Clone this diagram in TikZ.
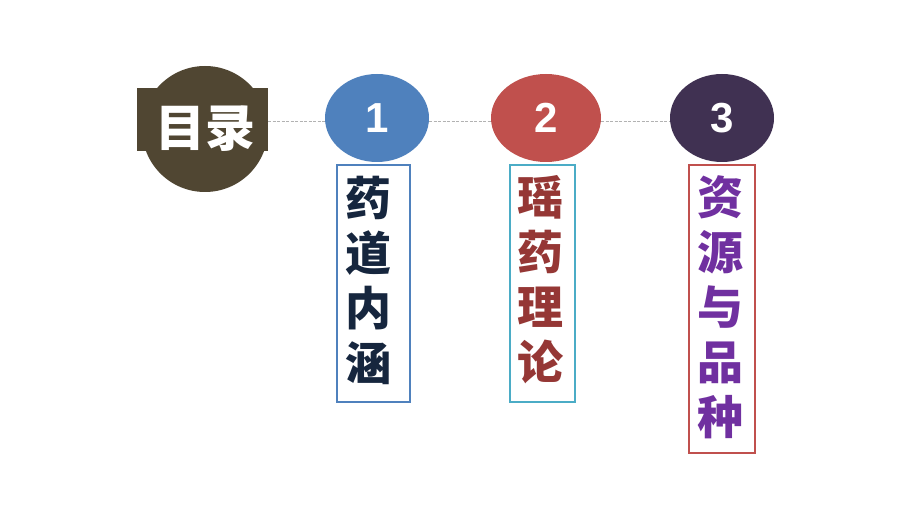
\documentclass[tikz,border=0pt]{standalone}
\usepackage{fontspec}
\setmainfont{Liberation Sans}
\newfontfamily\cjk{Noto Sans CJK SC}[BoldFont={Noto Sans CJK SC Black}]
\usetikzlibrary{shapes.geometric}
\definecolor{tocbrown}{RGB}{80,70,50}
\definecolor{cblue}{RGB}{79,129,189}
\definecolor{cred}{RGB}{192,80,77}
\definecolor{cpurple}{RGB}{64,49,82}
\definecolor{ccyan}{RGB}{75,172,198}
\definecolor{tnavy}{RGB}{22,38,62}
\definecolor{tred}{RGB}{149,55,53}
\definecolor{tpurple}{RGB}{112,48,160}
\begin{document}
\begin{tikzpicture}[x=1pt,y=-1pt,
  numcirc/.style={ellipse,inner sep=0pt,minimum height=88pt,text=white,
    font=\bfseries\fontsize{42}{42}\selectfont},
  conn/.style={draw=gray!60,line width=0.8pt,dash pattern=on 3pt off 1.5pt},
  vbox/.style={draw,line width=1.8pt,inner sep=0pt,fill=white},
  vtext/.style={inner sep=0pt,align=center,font=\cjk\bfseries\fontsize{46}{55}\selectfont}]
\useasboundingbox (0,0) rectangle (920,518);
\fill[white] (0,0) rectangle (920,518);
% TOC badge
\node[circle,fill=tocbrown,minimum size=126pt,inner sep=0pt] (toc) at (205,129) {};
\fill[tocbrown] (137,88) rectangle (268,151);
\node[text=white,inner sep=0pt,font=\cjk\bfseries\fontsize{50}{50}\selectfont] (toct) at (205,129) {目录};
% numbered circles
\node[numcirc,fill=cblue,minimum width=104pt] (c1) at (377,118) {1};
\node[numcirc,fill=cred,minimum width=110pt] (c2) at (546,118) {2};
\node[numcirc,fill=cpurple,minimum width=104pt] (c3) at (722,118) {3};
% connectors
\draw[conn] ([yshift=-3pt]toc.east |- c1.west) -- ([yshift=-3pt]c1.west);
\draw[conn] ([yshift=-3pt]c1.east) -- ([yshift=-3pt]c2.west);
\draw[conn] ([yshift=-3pt]c2.east) -- ([yshift=-3pt]c3.west);
% boxes
\node[vbox,draw=cblue,minimum width=73pt,minimum height=237pt] (b1) at (373.5,283.5) {};
\node[vbox,draw=ccyan,minimum width=65pt,minimum height=237pt] (b2) at (542.5,283.5) {};
\node[vbox,draw=cred,minimum width=66pt,minimum height=288pt] (b3) at (722,309) {};
\node[vtext,text=tnavy] (t1) at (368,280) {药\\道\\内\\涵};
\node[vtext,text=tred] (t2) at (540.5,280) {瑶\\药\\理\\论};
\node[vtext,text=tpurple] (t3) at (720,307) {资\\源\\与\\品\\种};
\end{tikzpicture}
\end{document}
